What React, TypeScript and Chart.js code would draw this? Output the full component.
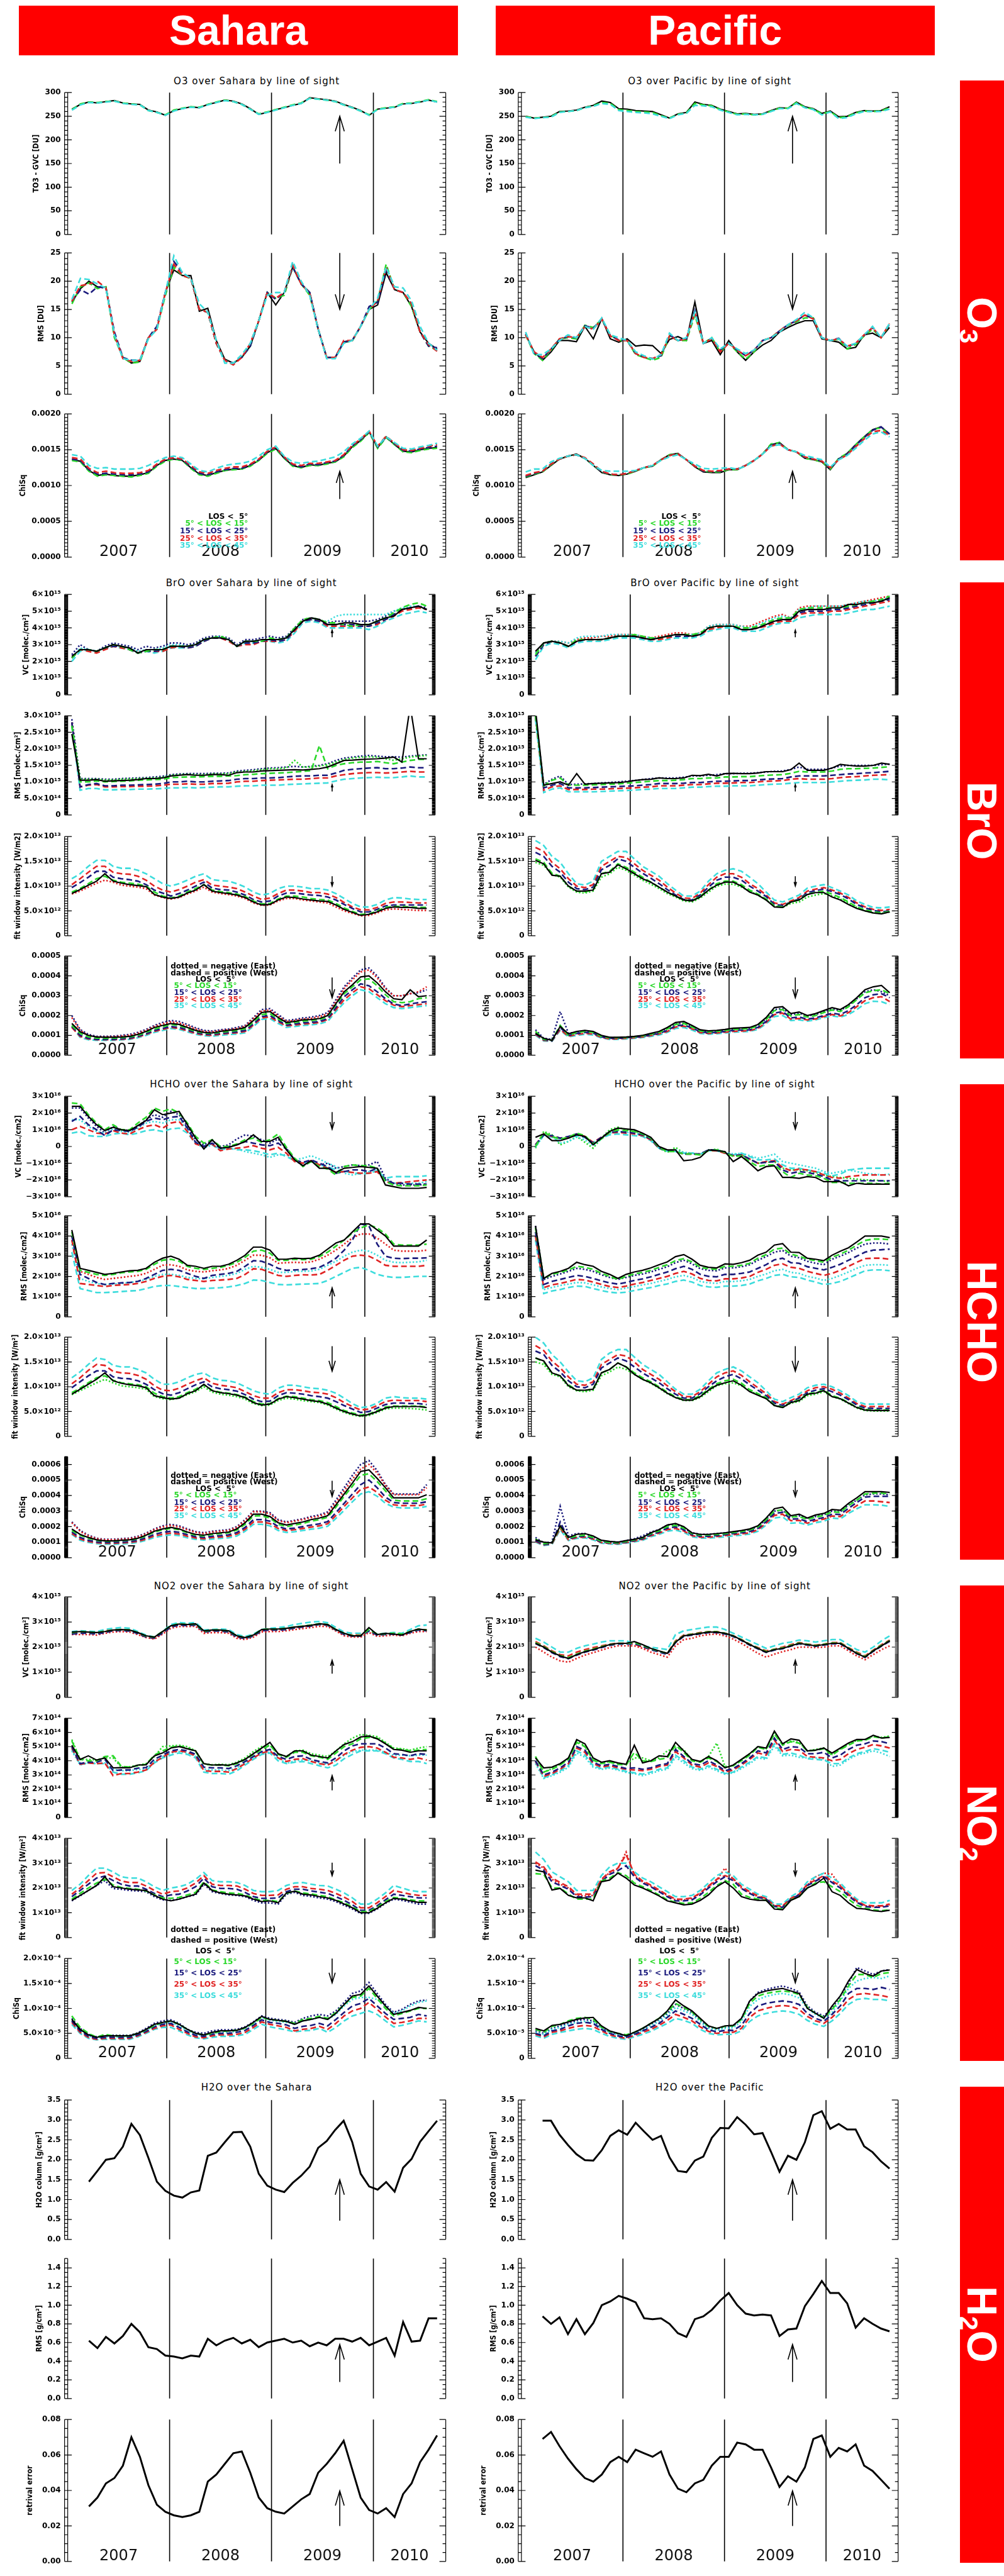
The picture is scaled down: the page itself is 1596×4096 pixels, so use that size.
import React, { useEffect, useRef } from "react";
import { Chart, registerables } from "chart.js";
Chart.register(...registerables);

const S = 1596 / 3025;
const X_MIN = 2007, X_MAX = 2010.71, ARROW_X = 2009.67, O3_LEG_RIGHT = 2008.77;
const YEAR_BOUNDS = [2007, 2008, 2009, 2010, X_MAX];
const YEAR_LABELS = ["2007", "2008", "2009", "2010"];
const KC = "#000000", GC = "#2ad82a", BC = "#1a1a7c", RC = "#e02424", CC = "#3cdcdc";

// ---------------- SAHARA ----------------
const sO31K = [265,275,280,278,281,283,278,276,275,263,259,252,262,266,270,268,275,279,284,282,276,266,254,258,264,268,273,277,289,287,285,282,275,269,262,252,265,267,269,276,277,280,284,280];
const sO31G = [264,276,280,279,281,282,278,276,274,262,258,253,263,267,270,269,275,280,284,281,275,265,255,259,264,269,274,278,288,286,284,281,274,268,261,253,265,268,270,277,278,281,285,281];
const sO31C = [263,274,279,278,280,282,277,275,274,262,258,252,261,266,269,268,274,279,283,281,275,265,254,258,263,268,273,277,288,286,284,281,274,268,261,252,264,267,269,276,277,280,284,280];
const sO32K = [16.3,18.7,20.0,19.0,19.0,10.5,6.5,5.5,5.8,10.0,11.5,18.0,22.0,21.0,21.0,14.7,15.2,9.5,6.2,5.5,6.5,8.5,13.0,18.0,15.8,18.0,22.5,19.5,18.0,11.5,6.5,6.5,9.3,9.5,12.0,15.0,15.8,21.5,18.5,18.0,15.5,11.0,9.0,8.0];
const sO32G = [16.0,19.0,19.7,18.7,19.0,10.0,6.5,5.5,5.7,10.0,11.5,17.5,22.5,21.0,20.5,15.0,14.5,9.0,6.0,5.5,6.5,8.5,13.0,18.0,17.0,17.5,22.5,19.5,17.5,11.5,6.5,6.5,9.2,9.4,12.0,15.0,16.5,23.0,18.5,18.0,15.5,11.0,8.5,7.8];
const sO32B = [16.5,18.5,17.7,19.0,18.8,11.0,6.5,6.0,6.0,10.0,12.0,18.0,23.5,21.5,20.5,15.0,14.5,9.0,6.0,5.5,6.5,8.5,13.0,18.0,16.8,18.0,22.5,19.5,18.0,11.5,6.5,6.5,9.2,9.5,12.0,15.5,16.3,22.0,18.5,18.0,16.0,11.0,8.5,8.2];
const sO32R = [16.5,19.2,19.5,20.0,18.8,10.5,6.3,5.8,6.0,10.0,11.5,18.0,23.0,21.0,20.5,15.0,14.5,9.0,6.0,5.2,6.5,9.0,13.0,18.0,17.0,18.0,22.8,19.5,17.8,11.5,6.5,6.5,9.5,9.5,12.0,15.0,16.5,22.5,18.5,18.0,16.0,11.0,8.8,7.6];
const sO32C = [16.8,20.5,20.3,19.5,18.8,10.5,6.3,6.0,6.0,9.8,11.5,18.0,24.5,21.5,20.5,16.0,14.5,9.5,5.5,5.5,7.0,9.0,13.0,17.5,18.0,18.0,23.5,20.0,17.5,11.5,6.3,6.3,9.0,9.5,12.0,15.0,17.0,22.5,19.0,18.8,16.5,12.0,9.0,7.8];
const sO33K = [136,134,121,114,116,114,113,113,115,118,128,135,137,135,125,116,114,118,121,123,123,128,135,146,152,138,128,125,129,128,131,133,141,154,163,175,153,168,157,148,147,150,152,153];
const sO33G = [135,133,120,113,115,114,113,112,114,117,127,134,137,135,124,115,113,117,121,122,123,127,135,145,151,138,127,125,128,128,130,133,140,153,162,174,152,167,157,147,146,149,151,152];
const sO33B = [137,135,122,116,117,116,115,115,116,119,129,136,138,136,126,117,115,119,122,124,124,129,136,147,153,139,129,126,130,129,132,134,142,155,164,175,154,168,158,149,148,151,153,155];
const sO33R = [139,137,124,118,120,118,117,117,118,121,130,137,139,137,128,119,117,121,124,126,126,130,137,148,154,140,130,128,131,131,133,135,143,156,165,176,155,169,159,150,149,152,155,157];
const sO33C = [143,141,128,124,125,123,123,123,124,128,134,139,141,139,130,121,119,124,128,130,131,134,141,150,155,141,133,131,133,134,137,140,147,158,166,176,155,168,160,152,151,154,156,159];

const sBr1K = [23,27,27,26,28,30,29,28,25,27,27,27,29,29,29,30,33,34,34,33,29,32,32,33,33,33,34,39,44,46,45,42,42,43,43,42,42,44,46,47,51,52,53,51];
const sBr1G = [22,27,27,26,28,30,29,27,25,26,27,27,29,29,29,30,33,34,35,33,29,32,32,32,34,33,34,40,45,46,45,43,43,42,41,42,42,44,46,49,52,54,55,53];
const sBr1B = [22,27,27,26,28,29,29,27,25,26,26,27,29,29,28,29,32,34,34,33,29,31,31,32,33,32,33,39,44,45,44,42,42,42,42,41,41,43,45,48,51,52,53,51];
const sBr1R = [22,27,26,25,27,29,28,27,25,26,26,26,28,29,28,29,32,34,34,32,29,30,30,32,32,32,33,38,44,45,44,41,41,41,41,41,41,42,45,47,50,51,52,51];
const sBr1C = [20,26,27,26,28,29,28,27,25,26,25,26,28,28,28,29,32,34,34,33,29,31,31,32,32,31,32,37,43,44,43,40,40,40,40,40,39,41,44,46,48,49,50,49];
const sBr1Bd = [24,30,27,26,29,31,30,29,27,29,28,29,31,31,30,31,34,35,35,34,30,33,33,34,35,34,35,40,45,46,45,43,44,44,44,44,44,45,47,50,51,52,53,52];
const sBr1Cd = [22,28,27,26,28,30,29,28,26,27,27,28,30,30,29,30,33,34,35,33,29,32,32,33,33,33,34,39,44,45,44,44,47,48,48,48,48,48,48,50,52,53,53,51];
const sBr2K = [245,105,105,107,102,103,104,105,107,110,110,112,118,120,122,120,120,122,122,120,128,130,130,133,134,135,136,137,136,138,140,145,155,165,166,168,169,170,172,175,160,330,170,170];
const sBr2G = [270,100,100,103,100,101,102,103,105,106,107,108,113,114,115,115,116,117,117,118,119,122,123,125,126,127,128,130,132,134,210,140,150,155,158,160,160,162,158,155,160,165,168,168];
const sBr2B = [280,85,92,95,88,88,90,90,91,92,93,95,100,100,102,100,100,102,103,104,108,110,110,112,112,113,115,117,118,118,120,120,127,135,138,140,142,143,140,140,142,145,143,143];
const sBr2R = [280,85,90,92,85,85,86,86,87,87,88,90,93,93,94,93,93,95,95,96,100,102,102,104,105,106,107,108,108,110,112,112,118,122,125,127,128,128,127,128,130,132,130,130];
const sBr2C = [270,75,80,80,76,76,77,77,78,78,79,80,82,82,83,82,83,84,85,85,87,88,88,90,90,90,92,93,94,95,96,97,103,108,110,112,113,114,113,113,115,118,115,115];
const sBr2Bd = [290,110,110,110,108,108,110,111,112,113,115,117,122,124,125,125,125,126,126,127,133,135,137,140,142,143,145,147,145,147,150,155,165,172,175,178,180,178,176,176,175,178,180,182];
const sBr2Gd = [280,108,108,108,106,106,108,109,110,111,112,114,120,122,123,122,122,124,124,125,130,132,134,137,140,140,142,165,145,145,148,152,160,168,172,175,176,175,170,165,170,175,178,180];
const sBr3K = [85,93,102,110,125,110,106,103,101,99,83,78,75,78,86,92,103,90,87,85,82,77,68,62,63,72,78,77,74,72,70,69,62,53,47,41,43,48,55,58,57,57,55,55];
const sBr3G = [88,95,105,115,120,112,108,106,104,100,88,80,76,80,88,95,103,92,89,87,84,79,70,64,65,74,80,80,78,75,73,72,65,56,49,43,44,50,57,59,59,58,57,57];
const sBr3B = [97,107,118,130,130,118,115,113,110,103,92,86,80,85,92,100,108,96,93,92,88,82,73,68,70,80,86,86,84,82,81,78,72,63,55,48,48,53,60,62,62,62,62,62];
const sBr3R = [103,115,128,140,140,128,125,124,120,112,100,92,88,93,100,108,113,102,100,98,95,88,80,73,76,85,92,92,90,87,87,84,77,67,58,52,52,57,65,68,68,67,66,66];
const sBr3C = [115,125,140,152,152,140,136,136,132,125,115,105,100,105,112,120,125,113,111,110,105,98,88,82,85,95,100,100,98,95,95,92,85,75,65,58,58,63,72,77,76,74,73,73];
const sBr3Rd = [84,90,98,106,112,108,102,100,98,95,82,77,74,77,84,90,98,88,85,83,80,75,66,61,62,70,75,75,72,70,68,66,58,50,45,40,41,46,52,54,53,52,51,51];
const sBr4K = [160,118,100,92,90,90,92,95,105,120,140,150,160,155,140,125,115,112,120,125,130,140,175,215,220,190,165,170,178,180,185,200,260,320,355,395,400,365,320,285,280,330,295,300];
const sBr4G = [150,110,92,86,85,86,88,92,100,115,132,143,155,150,135,120,112,110,116,120,125,133,168,205,210,183,160,165,172,175,180,195,255,310,345,380,385,350,305,270,265,270,285,290];
const sBr4B = [145,100,85,80,80,80,83,86,95,108,125,135,145,140,128,115,106,105,110,114,118,125,158,195,200,175,152,157,163,166,170,185,240,295,330,360,350,320,285,258,250,258,265,270];
const sBr4R = [140,95,82,78,78,78,80,83,92,105,120,130,140,135,123,110,102,100,106,110,113,120,152,188,193,168,148,152,157,160,165,180,230,280,315,345,335,305,275,252,245,250,255,260];
const sBr4C = [145,90,78,75,75,75,77,80,88,100,115,125,135,130,118,105,98,96,100,104,107,113,145,180,185,160,140,145,150,153,158,170,220,265,300,330,320,290,260,240,235,240,245,250];
const sBr4Bd = [200,130,105,95,95,96,100,105,115,130,150,165,175,170,155,138,125,122,128,132,140,150,190,230,235,205,175,180,188,192,200,215,280,345,390,430,440,400,340,300,300,310,315,330];
const sBr4Rd = [190,125,100,92,92,93,96,100,110,125,145,158,168,162,148,132,120,118,124,128,135,145,185,222,228,198,170,175,182,186,194,208,270,335,380,420,430,390,335,300,300,310,320,345];

const sHc1K = [240,240,180,130,95,115,100,95,125,155,220,190,200,210,130,50,-15,40,-10,-5,10,30,70,30,30,55,-20,-80,-115,-85,-130,-130,-155,-130,-125,-120,-125,-130,-230,-240,-250,-250,-250,-245];
const sHc1G = [260,255,190,140,100,130,100,100,140,175,230,210,225,200,140,60,20,40,0,0,15,40,50,25,40,75,-5,-70,-120,-90,-120,-135,-170,-120,-110,-115,-115,-130,-210,-230,-235,-235,-235,-230];
const sHc1B = [150,180,130,100,65,100,95,90,115,150,170,160,175,180,110,25,0,20,-10,0,10,30,20,10,5,20,-15,-80,-95,-80,-100,-120,-160,-150,-140,-140,-150,-130,-200,-220,-220,-225,-225,-225];
const sHc1R = [100,120,100,80,75,95,80,75,100,120,130,110,140,150,90,15,0,15,-25,-15,-10,-5,5,-10,-20,-5,-40,-90,-100,-85,-110,-130,-155,-150,-155,-160,-160,-150,-210,-220,-215,-210,-205,-200];
const sHc1C = [80,90,65,60,60,75,80,70,80,95,100,90,105,110,80,20,5,10,-20,-10,-20,-20,-25,-35,-50,-40,-60,-85,-100,-90,-110,-120,-140,-150,-155,-165,-160,-145,-190,-180,-180,-180,-180,-175];
const sHc1Bd = [230,230,170,120,80,120,100,95,120,160,190,175,210,190,120,40,10,35,0,10,45,70,60,40,20,45,-10,-80,-115,-90,-110,-100,-130,-120,-110,-115,-110,-90,-190,-220,-230,-230,-230,-225];
const sHc1Cd = [160,160,120,90,80,105,90,85,110,140,150,140,160,160,100,20,-10,10,-20,-10,-15,-30,-40,-50,-65,-50,-50,-80,-70,-55,-75,-100,-120,-160,-170,-160,-150,-130,-200,-220,-220,-220,-220,-210];
const sHc2K = [430,240,230,220,210,215,222,228,230,240,270,290,300,285,255,250,240,250,250,260,280,305,345,345,330,285,285,290,288,290,305,335,365,380,420,460,460,430,400,350,350,350,350,380];
const sHc2G = [420,230,220,210,205,210,218,222,225,235,260,280,285,275,250,240,235,240,245,255,270,295,325,330,315,280,280,285,283,285,298,320,350,380,415,440,455,440,410,360,355,355,355,360];
const sHc2B = [400,210,190,170,160,165,168,170,175,190,210,230,235,230,215,200,190,205,210,215,225,250,278,275,260,240,230,232,234,238,245,265,290,330,380,460,450,360,300,290,288,290,290,292];
const sHc2R = [380,165,160,155,150,155,158,160,165,175,190,200,205,198,185,180,175,180,182,185,190,210,238,235,220,205,200,205,208,207,210,230,255,280,300,305,300,280,255,250,250,250,250,255];
const sHc2C = [320,140,130,120,120,122,125,128,130,140,150,155,155,150,145,140,140,142,144,148,155,165,182,180,170,160,158,160,162,163,165,180,200,220,240,245,230,210,200,195,195,198,200,200];
const sHc2Rd = [400,225,210,195,185,190,195,200,205,215,235,255,258,250,232,225,222,228,232,240,255,280,305,305,292,265,268,270,268,272,285,305,330,360,390,410,410,390,360,330,325,325,325,330];
const sHc2Cd = [360,190,175,165,160,162,165,170,175,185,200,210,210,205,195,190,188,195,200,205,215,235,250,245,235,220,220,225,225,227,235,255,275,300,320,330,325,305,280,270,268,270,272,280];
const sHc3K = [85,95,105,115,128,112,107,104,102,98,82,78,75,77,86,92,105,92,88,86,83,78,68,63,65,75,80,78,75,72,70,65,57,50,45,41,44,50,57,60,60,60,60,58];
const sHc3G = [88,97,108,118,122,113,108,106,104,100,87,80,77,80,88,95,104,93,89,87,84,79,70,65,66,76,81,80,77,74,72,68,60,52,47,43,45,52,59,61,61,61,61,59];
const sHc3B = [98,110,122,132,132,120,117,116,112,105,94,86,83,88,96,104,110,100,96,94,91,84,75,70,71,82,88,87,85,82,80,77,70,62,55,48,50,57,64,67,67,66,66,64];
const sHc3R = [106,118,133,145,143,131,128,127,123,115,102,93,92,97,105,112,118,107,103,101,98,90,82,77,77,88,94,94,92,89,88,85,78,68,60,53,55,62,70,73,72,72,72,70];
const sHc3C = [118,130,145,158,155,143,140,140,135,128,115,105,105,110,118,125,128,118,113,112,108,100,92,87,85,97,103,103,100,97,96,93,87,77,66,58,60,67,77,80,78,77,77,75];
const sHc3Gd = [84,92,100,108,115,108,102,100,98,95,80,76,74,77,84,90,100,89,85,83,80,75,66,62,63,72,77,75,72,70,68,63,55,48,43,40,42,48,55,57,57,56,55,53];
const sHc4K = [185,150,130,115,108,108,112,115,125,145,170,185,195,185,165,150,145,155,160,165,185,225,280,280,265,225,210,220,230,245,255,270,340,410,480,555,565,510,450,385,385,385,385,405];
const sHc4G = [175,145,125,112,106,106,110,113,122,140,165,180,188,180,160,145,140,150,155,160,178,215,268,270,255,215,200,210,220,235,245,260,325,395,460,530,540,490,430,370,365,365,365,380];
const sHc4B = [165,130,112,102,98,98,100,104,112,128,150,163,170,163,148,135,130,138,142,147,162,195,245,245,235,200,185,190,200,210,218,232,290,350,410,470,500,450,390,355,350,350,350,360];
const sHc4R = [155,120,105,96,92,92,95,98,105,120,140,150,158,152,138,127,122,130,133,138,152,183,230,230,220,188,175,180,188,197,205,218,272,330,385,440,455,420,370,340,335,335,335,345];
const sHc4C = [150,112,98,90,86,86,88,91,98,112,130,140,147,142,128,118,114,120,124,128,140,170,215,215,205,175,162,167,175,183,190,202,253,305,360,410,425,395,350,325,320,320,320,330];
const sHc4Bd = [230,175,145,125,118,118,122,126,138,158,185,205,215,205,185,168,160,170,175,180,200,245,300,300,290,245,230,240,250,265,275,295,370,450,530,600,625,560,470,410,410,410,410,470];
const sHc4Rd = [225,170,140,122,115,115,118,122,133,153,180,198,208,198,180,163,155,165,170,175,195,238,295,295,282,240,225,235,245,258,268,285,355,430,505,570,600,545,465,405,405,405,405,450];

const sNo1K = [260,262,260,258,262,268,270,268,258,245,240,262,285,292,290,293,265,268,268,265,245,238,248,270,272,272,275,280,283,287,293,290,270,255,245,245,278,250,255,252,248,262,272,268];
const sNo1G = [258,262,260,258,263,268,270,268,258,244,240,262,285,293,290,292,263,268,268,264,245,238,248,270,272,272,275,280,284,288,293,290,270,255,246,246,270,252,253,255,252,262,272,268];
const sNo1B = [252,255,255,252,258,265,266,264,254,240,236,256,280,288,286,288,260,264,264,260,240,234,244,265,268,268,270,276,280,284,290,287,268,250,244,244,265,248,250,252,248,258,268,265];
const sNo1R = [255,258,258,255,265,268,270,268,255,240,235,258,280,290,288,290,260,265,265,262,240,235,245,265,268,270,272,278,282,287,292,288,268,250,248,248,265,250,252,255,250,262,272,268];
const sNo1C = [262,265,263,262,270,275,278,275,262,248,240,262,290,298,295,298,268,270,272,270,250,242,252,270,275,278,282,290,295,300,302,297,278,260,255,255,262,252,255,258,255,270,285,288];
const sNo1Rd = [250,250,250,248,255,260,262,260,250,238,232,252,275,282,282,283,255,258,258,255,235,230,240,260,262,262,265,270,274,278,283,282,264,245,240,240,258,243,245,248,245,255,262,262];
const sNo2K = [510,410,435,405,420,350,352,350,370,372,435,455,490,500,485,470,380,370,372,368,385,410,450,490,530,450,430,470,470,440,430,420,470,515,535,568,575,555,520,480,475,460,470,470];
const sNo2G = [540,410,400,400,430,435,360,355,365,375,440,470,495,505,490,465,375,370,370,365,380,410,445,480,510,445,425,460,460,435,425,410,455,500,520,555,565,560,525,485,480,470,475,480];
const sNo2B = [500,380,390,390,410,330,335,335,348,352,410,440,470,480,470,445,355,350,350,345,365,395,430,465,480,430,410,430,435,410,395,385,420,470,505,520,520,520,490,450,445,435,450,445];
const sNo2R = [490,375,385,380,385,295,310,310,320,335,390,425,460,470,460,435,330,325,325,320,345,380,420,455,470,420,395,410,415,395,380,370,400,445,475,495,500,490,460,425,420,410,420,405];
const sNo2C = [480,375,385,380,380,320,305,305,315,330,385,420,440,455,445,420,320,310,310,305,330,370,410,445,455,400,380,390,395,380,365,350,370,415,445,470,470,470,450,420,410,395,395,380];
const sNo2Gd = [550,410,410,405,420,420,355,358,368,380,430,500,505,510,500,470,378,372,375,372,390,420,465,500,510,450,430,470,475,450,440,430,470,520,560,585,580,570,530,490,485,475,490,500];
const sNo2Cd = [470,370,385,380,385,340,330,330,338,345,395,430,455,465,455,430,340,335,335,330,350,385,420,455,460,420,380,400,405,400,385,375,400,440,465,475,475,475,460,440,440,435,440,440];
const sNo3K = [150,170,190,210,245,205,200,195,192,190,170,155,148,155,165,175,220,190,180,175,172,168,155,145,148,140,180,187,175,172,165,160,150,135,120,100,100,118,140,158,155,148,142,142];
const sNo3G = [155,178,200,220,235,212,202,198,195,188,172,160,158,162,172,182,225,192,185,180,178,172,158,150,150,145,178,188,180,176,170,165,152,140,124,105,105,122,145,162,158,152,148,148];
const sNo3B = [165,190,215,240,248,230,215,208,208,195,178,165,172,175,188,205,240,205,198,198,195,182,165,158,158,160,185,195,195,188,183,178,165,150,132,110,110,128,152,175,170,165,160,160];
const sNo3R = [175,200,230,260,262,245,228,222,222,208,190,175,185,188,200,220,250,215,210,210,208,195,178,170,170,172,195,205,205,198,195,190,178,163,145,120,120,140,165,190,182,175,170,170];
const sNo3C = [190,215,250,280,280,265,245,240,240,225,205,190,200,205,215,235,262,230,225,225,222,210,190,185,185,190,210,220,222,215,210,208,195,180,160,135,135,155,180,210,200,190,185,185];
const sNo3Bd = [148,168,190,210,230,198,195,190,188,185,165,152,150,155,165,172,215,185,178,172,170,165,150,140,140,135,175,182,170,166,160,155,145,130,115,97,98,115,138,155,150,143,135,135];
const sNo4K = [78,58,47,42,45,45,45,45,50,58,68,72,75,68,58,50,47,52,55,55,56,62,72,84,78,76,74,68,75,78,82,78,90,108,125,128,145,125,105,88,92,96,102,100];
const sNo4G = [85,62,50,42,48,45,45,45,50,57,66,72,75,68,58,50,47,50,54,55,56,61,70,82,78,76,74,70,78,80,84,80,92,108,122,125,140,120,100,85,90,95,100,100];
const sNo4B = [75,55,44,40,42,42,42,42,47,54,63,68,70,62,53,46,44,48,50,50,52,56,66,77,72,70,67,60,64,66,70,65,78,92,105,110,120,105,90,78,80,82,88,85];
const sNo4R = [72,52,42,38,40,40,40,40,45,52,60,65,67,58,50,43,41,45,47,47,48,52,62,73,68,65,62,55,58,60,64,58,70,85,95,100,112,98,83,70,72,75,80,80];
const sNo4C = [68,50,40,37,38,38,38,38,43,50,58,62,62,55,47,41,39,42,44,44,45,48,58,68,63,60,57,53,55,56,60,52,62,75,85,90,95,88,75,63,66,70,75,73];
const sNo4Bd = [80,60,48,43,45,46,46,46,51,60,70,75,77,70,58,52,50,55,57,57,58,63,73,85,80,78,76,72,80,85,88,85,95,112,130,135,152,130,108,92,98,108,115,117];
const sNo4Cd = [75,56,45,40,43,43,43,43,48,56,65,70,72,65,55,48,46,50,52,52,54,60,70,82,76,74,72,68,75,78,82,78,88,105,118,122,122,118,105,90,95,105,112,115];

const sH2o1 = [1.45,1.72,2.0,2.04,2.33,2.9,2.62,2.05,1.45,1.22,1.1,1.05,1.18,1.23,2.1,2.18,2.44,2.69,2.7,2.33,1.65,1.35,1.25,1.19,1.42,1.6,1.83,2.3,2.47,2.75,2.98,2.45,1.65,1.33,1.25,1.44,1.2,1.8,2.02,2.45,2.72,2.98];
const sH2o2 = [0.62,0.54,0.66,0.59,0.67,0.80,0.71,0.55,0.53,0.46,0.45,0.43,0.46,0.45,0.64,0.57,0.62,0.65,0.59,0.63,0.55,0.60,0.62,0.64,0.60,0.62,0.56,0.60,0.57,0.64,0.64,0.61,0.65,0.57,0.61,0.65,0.46,0.82,0.61,0.62,0.86,0.86];
const sH2o3 = [0.031,0.036,0.044,0.047,0.054,0.070,0.059,0.043,0.032,0.028,0.026,0.025,0.026,0.028,0.045,0.049,0.055,0.061,0.062,0.050,0.036,0.030,0.028,0.027,0.031,0.035,0.038,0.050,0.055,0.061,0.068,0.052,0.036,0.029,0.027,0.030,0.025,0.038,0.044,0.056,0.063,0.071];

// ---------------- PACIFIC ----------------
const pO31K = [250,246,248,250,260,261,263,269,273,282,279,266,265,262,261,260,253,246,255,258,280,275,273,265,260,255,256,254,255,262,268,267,280,270,266,256,261,249,250,258,262,261,262,270];
const pO31G = [249,246,247,249,259,260,262,268,272,279,277,264,262,260,259,258,251,246,254,257,277,274,272,264,259,254,255,253,254,261,267,267,279,269,265,255,260,247,249,257,261,260,261,268];
const pO31C = [248,245,247,248,258,260,262,268,271,277,275,262,260,258,257,255,250,245,253,256,273,272,270,263,258,253,254,253,254,260,266,266,277,268,264,253,259,245,247,255,260,260,260,265];
const pO32K = [10.5,7.5,6.0,7.5,9.5,9.5,9.3,12.0,9.8,13.4,9.8,9.2,9.8,8.5,8.7,8.6,7.2,9.7,10.2,9.5,16.3,9.0,9.5,7.0,9.5,7.5,6.0,7.5,8.7,9.5,11.0,11.8,12.5,13.0,13.0,9.8,9.5,9.2,8.0,8.3,10.5,10.8,10.0,11.8];
const pO32G = [10.5,7.2,6.0,7.8,9.8,10.0,9.8,12.2,11.8,13.3,10.5,9.5,9.5,7.0,6.5,6.0,6.5,10.3,9.5,9.5,14.0,9.0,10.0,7.5,9.0,7.5,6.2,7.5,9.5,10.0,11.2,12.2,12.8,13.5,13.5,10.0,9.5,9.7,8.0,8.8,10.3,11.5,10.0,12.3];
const pO32B = [10.7,7.3,6.3,8.0,9.7,10.2,10.0,12.1,11.7,13.3,10.4,9.6,9.5,7.2,6.6,6.3,6.8,10.5,9.5,9.8,14.8,9.0,9.9,7.8,9.0,7.8,6.8,7.8,9.5,10.0,11.2,12.3,13.0,14.0,13.4,10.0,9.5,9.9,8.4,9.0,10.4,11.8,10.0,12.4];
const pO32R = [10.5,7.5,6.5,8.0,9.8,10.2,10.0,12.0,11.5,13.3,10.3,9.5,9.5,7.2,6.5,6.3,7.0,10.3,9.5,9.8,14.5,9.0,9.8,7.5,9.0,7.8,6.8,7.8,9.5,10.0,11.2,12.3,13.0,14.0,13.3,10.0,9.5,9.8,8.5,9.0,10.5,11.8,10.0,12.5];
const pO32C = [11.0,7.0,7.0,8.0,9.5,10.5,10.0,12.0,11.5,13.5,10.5,10.0,9.5,7.5,6.8,6.2,7.0,10.8,9.5,10.0,14.5,9.0,10.0,8.0,9.0,8.0,7.2,7.8,9.5,10.0,11.0,12.3,13.2,14.5,13.5,10.0,9.5,9.8,8.5,9.0,10.5,12.0,10.0,12.5];
const pO33K = [111,115,119,128,137,141,144,138,128,118,115,114,116,120,125,127,136,143,145,136,126,119,118,118,122,122,128,135,144,157,160,150,147,138,136,133,122,137,145,157,168,178,182,172];
const pO33G = [112,116,119,129,137,141,143,138,128,119,115,115,116,120,125,127,136,143,144,136,127,120,119,119,122,122,128,135,144,158,160,150,147,138,136,133,123,138,145,157,168,178,181,171];
const pO33B = [113,117,120,130,137,141,143,138,129,119,116,115,117,121,125,128,136,142,144,136,127,120,120,120,123,123,128,135,144,156,159,150,147,139,137,134,124,137,144,156,167,177,182,172];
const pO33R = [114,118,120,130,137,141,143,139,130,120,116,115,117,121,125,128,136,142,144,136,127,121,120,121,123,123,128,135,144,155,158,150,147,140,137,134,125,136,143,154,165,175,177,170];
const pO33C = [119,123,123,133,138,141,143,138,128,121,120,120,120,121,125,128,135,140,143,136,130,124,123,124,125,123,127,135,144,155,157,150,147,142,139,136,126,136,142,152,163,172,175,168];

const pBr1K = [26,31,32,31,29,32,33,33,33,34,35,35,35,34,33,34,35,36,36,35,36,40,41,41,41,39,39,40,42,44,45,45,50,51,51,51,52,52,54,54,55,55,56,58];
const pBr1G = [24,31,32,31,29,33,33,33,33,34,35,35,36,35,34,34,35,36,36,36,37,40,41,41,41,40,40,41,43,45,46,46,51,52,52,52,52,52,53,54,55,56,57,59];
const pBr1B = [23,30,32,31,29,32,33,33,33,34,35,35,35,34,33,34,35,35,35,35,36,40,41,41,41,39,39,40,42,44,45,45,49,50,50,50,51,51,52,53,54,55,56,57];
const pBr1R = [23,30,32,31,29,32,33,33,33,34,35,35,35,34,33,33,34,35,35,35,36,39,40,41,41,39,39,40,41,43,44,44,48,49,49,49,50,50,51,52,53,54,55,56];
const pBr1C = [21,29,31,30,28,31,32,32,32,33,34,34,34,33,32,32,33,34,34,34,35,38,39,40,40,38,38,38,40,42,43,43,46,47,48,48,48,48,49,50,51,51,52,53];
const pBr1Rd = [25,31,32,32,31,33,34,34,35,35,36,36,36,35,34,35,36,37,37,36,37,41,42,42,42,41,41,43,45,47,48,46,52,53,53,53,53,53,54,55,56,57,58,59];
const pBr1Cd = [25,31,32,32,31,34,35,35,35,36,36,36,36,35,34,34,35,36,36,36,37,41,42,42,42,41,40,42,44,46,47,46,51,52,53,53,53,53,54,55,56,56,57,58];
const pBr2K = [320,90,95,100,90,125,93,95,96,97,98,100,104,107,108,112,110,110,112,120,119,123,118,125,126,125,125,127,131,131,131,137,157,135,135,135,142,153,150,148,148,150,157,153];
const pBr2G = [300,88,105,112,90,90,90,91,92,93,94,96,98,100,102,104,104,105,107,110,110,112,112,115,115,116,116,118,120,121,122,126,132,130,130,130,133,138,140,140,141,142,144,146];
const pBr2B = [300,82,90,95,82,82,82,83,84,85,86,87,88,90,92,95,95,95,96,98,98,100,102,102,103,104,104,106,108,109,110,115,118,118,118,118,120,122,124,125,127,128,130,132];
const pBr2R = [300,75,85,88,77,77,77,78,78,79,80,81,82,84,85,88,88,88,90,92,92,94,96,96,97,98,98,100,102,103,104,108,110,108,108,108,110,113,115,116,118,120,121,122];
const pBr2C = [290,68,78,82,70,70,70,70,71,72,73,74,75,77,78,80,80,80,82,84,84,86,87,87,88,88,88,90,92,93,94,96,98,98,98,98,100,102,104,105,106,108,108,106];
const pBr2Bd = [300,92,108,118,92,93,94,95,97,98,100,102,104,107,110,112,112,112,114,118,118,120,122,125,125,126,126,128,130,132,133,138,145,138,138,138,142,148,150,150,150,150,152,154];
const pBr3K = [152,145,122,120,100,90,90,92,125,128,143,135,125,115,108,98,88,80,72,70,78,92,102,108,108,100,88,82,72,58,57,68,72,83,87,87,78,72,63,55,50,46,44,48];
const pBr3G = [155,148,126,120,100,90,88,93,125,130,145,138,128,118,108,98,88,80,72,70,80,92,105,110,110,103,92,84,74,60,58,68,72,84,87,90,84,77,68,58,52,48,46,49];
const pBr3B = [168,160,140,128,108,95,93,98,133,142,155,150,138,126,116,105,93,82,73,72,82,98,112,118,118,112,100,90,79,63,61,68,74,87,91,94,89,83,74,63,56,51,48,50];
const pBr3R = [178,170,148,135,115,100,97,103,140,150,160,158,145,132,122,112,98,86,76,75,86,103,118,125,125,118,105,95,82,66,63,70,77,90,94,97,92,86,77,66,58,53,51,53];
const pBr3C = [192,182,160,148,125,105,102,110,150,160,170,170,155,140,130,120,105,92,80,80,90,110,125,132,135,130,118,105,88,72,68,75,82,96,100,103,97,90,82,70,63,57,56,58];
const pBr3Gd = [148,142,124,118,98,88,86,90,118,125,138,132,122,112,104,95,85,78,70,68,76,88,100,104,104,98,90,82,72,60,57,65,68,78,82,85,80,74,66,57,50,46,45,48];
const pBr4K = [110,85,75,145,108,120,125,120,100,90,90,92,95,100,110,120,140,165,170,150,128,123,125,130,136,138,140,155,190,240,245,210,218,200,210,225,240,230,255,290,330,345,352,315];
const pBr4G = [120,80,75,150,100,115,120,115,95,88,88,90,93,98,106,115,132,155,160,143,122,118,120,125,130,132,134,148,180,225,230,198,205,192,200,215,228,220,245,280,315,325,330,310];
const pBr4B = [110,78,72,140,100,110,115,112,92,85,85,88,90,95,102,110,125,148,152,138,118,113,115,120,125,127,128,140,170,212,220,188,192,182,188,200,212,205,225,255,290,305,310,290];
const pBr4R = [105,75,72,130,95,105,110,107,90,82,83,85,88,92,99,107,120,142,147,133,114,110,112,116,120,122,124,135,165,205,212,182,185,178,183,195,205,198,215,245,275,290,295,270];
const pBr4C = [100,72,70,125,92,100,105,102,87,80,80,82,85,89,95,102,115,135,140,127,110,106,108,112,116,118,120,130,158,195,200,175,178,172,178,190,198,192,205,230,260,272,270,255];
const pBr4Bd = [128,85,80,220,110,118,122,118,97,88,88,90,93,98,107,117,135,158,162,145,124,120,122,127,133,135,137,150,183,230,235,205,212,198,205,220,232,225,250,285,320,330,320,300];

const pHc1K = [55,75,35,35,50,70,60,10,50,90,110,105,100,80,55,0,-20,-20,-85,-80,-65,-20,-25,-30,-90,-60,-100,-145,-120,-115,-185,-185,-190,-180,-185,-210,-210,-210,-235,-220,-225,-225,-225,-225];
const pHc1G = [0,85,60,45,55,80,65,15,45,85,100,95,90,75,50,-5,-30,-30,-45,-45,-50,-25,-20,-35,-60,-55,-90,-120,-110,-110,-150,-185,-160,-170,-175,-190,-215,-215,-220,-220,-220,-220,-225,-220];
const pHc1B = [10,70,65,50,60,75,55,20,55,85,90,85,80,70,45,-10,-25,-30,-45,-45,-45,-20,-20,-35,-55,-50,-75,-100,-95,-90,-140,-160,-150,-155,-165,-180,-200,-205,-205,-205,-205,-205,-205,-205];
const pHc1R = [10,75,60,50,55,75,60,25,55,80,85,80,75,65,40,-10,-25,-30,-45,-45,-45,-25,-25,-40,-55,-50,-75,-100,-90,-85,-125,-145,-135,-140,-150,-170,-185,-190,-180,-175,-170,-170,-170,-170];
const pHc1C = [0,65,55,45,50,65,55,25,50,70,75,70,65,60,35,-10,-25,-30,-40,-40,-45,-25,-25,-40,-50,-40,-60,-80,-80,-75,-110,-130,-130,-140,-150,-160,-175,-165,-140,-135,-130,-130,-130,-130];
const pHc1Gd = [-10,90,70,10,30,60,25,-10,50,100,115,100,95,70,45,-10,-35,-5,-40,-40,-50,-25,-15,-40,-55,-50,-75,-100,-95,-90,-130,-140,-140,-145,-155,-170,-180,-185,-190,-195,-200,-200,-205,-210];
const pHc1Cd = [-5,70,60,20,30,55,40,5,45,80,90,85,80,65,40,-10,-30,-20,-35,-40,-45,-20,-20,-35,-45,-40,-55,-70,-60,-45,-90,-100,-110,-120,-130,-150,-160,-150,-140,-150,-160,-165,-170,-165];
const pHc2K = [450,190,215,225,240,270,258,250,225,210,190,210,222,230,242,258,272,298,308,285,255,245,242,262,260,268,280,305,320,355,362,320,318,290,285,278,305,325,342,370,400,400,400,392];
const pHc2G = [440,190,210,220,232,250,245,235,215,200,185,200,212,220,230,245,258,278,288,272,245,238,235,250,250,255,265,290,308,335,340,310,300,285,278,270,295,310,330,355,378,385,385,382];
const pHc2B = [420,160,175,185,195,205,200,190,178,168,162,170,180,188,198,210,222,238,250,235,210,200,198,210,210,215,222,240,258,282,290,268,265,248,240,232,245,260,280,300,320,330,332,335];
const pHc2R = [400,145,158,165,175,185,182,172,160,150,145,152,162,170,180,190,200,215,225,212,190,180,178,188,188,192,200,220,235,255,262,245,240,225,215,205,215,230,250,270,288,290,290,285];
const pHc2C = [380,115,128,135,145,152,150,140,130,122,118,122,130,138,145,155,163,175,182,172,155,148,146,152,152,155,162,178,190,205,210,198,195,182,172,160,165,175,192,210,228,232,232,228];
const pHc2Bd = [450,185,200,212,225,240,235,225,208,195,185,195,205,212,222,235,248,268,280,262,238,230,228,242,242,248,258,280,298,320,328,300,292,275,265,258,285,300,318,340,360,365,365,360];
const pHc2Cd = [400,135,145,155,162,170,168,158,148,140,135,142,150,158,165,175,185,198,205,195,175,168,166,175,175,178,185,200,212,228,235,220,215,200,192,180,190,205,222,240,255,258,258,255];
const pHc3K = [158,152,128,122,102,93,93,95,128,135,148,140,125,115,108,98,87,78,73,73,80,93,103,108,112,103,90,83,76,62,58,68,72,85,87,92,80,76,67,58,53,52,52,52];
const pHc3G = [158,150,128,122,104,93,92,96,128,135,148,140,128,118,110,100,89,80,74,74,82,95,106,112,115,107,94,86,78,63,59,69,73,86,88,93,82,77,68,59,54,53,53,53];
const pHc3B = [172,165,143,130,112,100,98,105,138,148,158,152,140,128,118,108,96,85,77,77,86,100,112,120,125,116,104,93,82,67,62,70,77,88,93,96,90,83,74,63,57,56,56,56];
const pHc3R = [183,173,152,138,120,105,103,110,145,155,165,162,150,135,125,115,102,90,80,80,90,105,120,128,132,123,110,98,86,70,65,72,80,92,98,100,95,87,77,66,60,60,60,60];
const pHc3C = [200,188,165,150,130,112,110,118,155,168,175,175,160,145,135,125,110,95,85,85,95,112,128,135,140,132,120,108,92,75,70,78,85,98,103,105,100,92,82,70,65,65,65,65];
const pHc3Gd = [150,145,125,120,100,92,90,93,122,130,140,135,125,115,107,97,86,78,72,72,78,90,102,106,108,102,92,84,76,62,58,67,70,82,85,90,80,75,66,57,52,51,51,51];
const pHc4K = [115,100,95,205,130,150,155,140,112,105,100,110,118,130,160,180,210,220,200,160,150,150,155,160,168,175,185,205,255,315,325,270,280,255,275,285,310,305,350,385,425,425,425,420];
const pHc4G = [120,90,95,200,125,140,145,130,105,98,96,105,115,128,155,172,200,208,190,155,145,146,150,155,162,168,178,198,245,300,308,262,265,245,262,272,295,292,335,370,410,415,415,410];
const pHc4B = [110,85,90,230,120,135,138,125,100,95,92,100,110,122,148,165,190,198,180,148,138,138,142,148,155,160,168,188,232,285,292,248,250,232,248,258,280,278,318,355,390,395,395,395];
const pHc4R = [105,82,88,190,115,130,133,120,97,92,90,97,107,118,142,158,180,188,172,142,132,132,136,142,148,153,160,180,222,272,280,238,240,222,238,248,268,265,300,335,365,365,360,355];
const pHc4C = [100,78,85,180,110,124,128,115,93,88,86,93,102,112,135,150,170,178,163,135,126,126,130,135,140,145,152,170,210,255,262,222,225,210,225,235,255,250,285,315,340,340,338,330];
const pHc4Bd = [130,95,100,330,140,155,155,135,110,102,100,110,122,140,165,180,210,215,190,160,150,150,155,160,165,170,180,200,245,300,305,260,270,250,265,275,300,295,340,370,405,410,410,405];

const pNo1K = [215,200,180,165,155,170,182,190,200,210,215,215,222,210,195,185,175,220,245,250,255,260,260,255,245,228,210,195,180,190,195,205,215,210,205,210,215,215,195,175,160,185,205,225];
const pNo1G = [218,202,182,166,158,172,184,192,202,210,215,215,218,207,194,184,175,222,246,251,256,261,261,255,245,229,211,196,182,191,197,207,216,211,206,211,216,216,196,177,162,186,207,226];
const pNo1B = [214,198,178,162,154,168,180,188,198,207,212,212,214,203,190,180,171,218,243,248,253,258,258,252,242,226,208,193,179,188,194,204,213,208,203,208,213,213,193,174,159,183,204,223];
const pNo1R = [222,205,185,170,165,180,190,198,205,212,215,215,212,200,190,182,175,225,248,252,258,262,262,255,245,230,212,198,185,192,200,210,218,212,208,212,218,218,198,180,165,188,210,228];
const pNo1C = [235,220,200,180,180,195,205,212,220,225,225,225,215,205,200,195,190,250,265,270,275,280,280,270,255,240,225,210,195,205,215,220,228,225,220,225,230,230,210,190,180,200,225,245];
const pNo1Rd = [200,180,160,145,140,155,168,178,188,198,205,205,205,195,180,170,160,205,230,235,245,250,252,245,232,215,195,175,160,172,182,190,200,200,198,200,205,205,185,165,150,170,190,205];
const pNo2K = [420,350,355,380,420,550,520,420,390,400,385,375,510,385,400,435,430,530,470,410,395,430,400,350,370,410,450,500,490,610,520,555,545,470,475,490,455,490,525,550,550,580,560,565];
const pNo2G = [430,320,340,370,410,530,500,405,380,390,375,370,460,400,395,410,420,510,460,400,390,420,395,355,365,400,440,495,480,590,510,535,525,470,475,485,440,480,510,540,545,570,560,570];
const pNo2B = [400,300,320,350,390,500,475,390,365,375,360,345,350,340,350,370,380,480,430,380,370,400,370,330,345,380,420,470,455,560,480,500,495,450,450,460,420,440,480,510,520,540,535,520];
const pNo2R = [395,290,310,340,380,490,460,380,355,365,350,340,335,330,340,360,370,465,420,370,355,385,360,320,335,370,410,455,440,545,465,480,475,430,425,420,400,410,450,480,495,515,505,490];
const pNo2C = [390,280,300,330,365,470,440,365,345,355,340,325,315,305,320,340,350,440,400,355,340,365,340,310,320,355,390,430,420,520,445,455,440,415,410,405,380,380,420,450,465,485,475,460];
const pNo2Gd = [430,320,345,375,415,540,505,410,385,395,380,375,420,420,400,420,470,490,480,400,395,430,525,360,365,405,450,500,485,600,515,540,530,470,480,490,445,485,515,545,550,575,565,575];
const pNo2Cd = [380,275,295,320,355,455,425,355,340,348,335,318,310,295,310,330,340,425,385,345,332,355,330,305,315,345,380,420,410,505,435,440,425,420,420,415,360,370,410,440,455,470,455,430];
const pNo3K = [272,265,192,198,170,160,160,148,225,232,260,240,212,200,185,168,148,140,132,135,150,172,205,225,200,165,155,150,150,115,112,150,165,200,215,240,185,170,140,118,115,108,105,110];
const pNo3G = [258,255,200,200,175,155,155,155,228,240,262,250,220,205,190,172,152,142,138,140,158,182,210,230,215,175,162,155,150,120,115,152,165,200,220,225,205,185,155,130,118,112,108,112];
const pNo3B = [290,272,225,210,195,165,163,165,225,255,270,290,245,220,205,185,165,148,148,152,172,200,225,245,230,198,178,162,155,125,122,155,172,210,228,245,222,200,168,142,125,122,122,128];
const pNo3R = [305,285,240,222,205,175,175,175,235,265,280,335,255,228,212,192,172,155,155,160,180,208,235,250,238,205,185,168,158,128,128,158,175,215,232,250,228,208,175,148,130,128,128,135];
const pNo3C = [345,315,265,245,225,190,190,190,250,285,300,300,265,240,225,205,185,165,165,170,190,220,250,265,250,215,195,175,165,135,135,165,185,225,245,260,240,220,185,155,140,140,140,150];
const pNo3Rd = [300,280,235,215,200,170,168,170,232,262,278,345,250,225,208,188,170,152,152,158,178,205,232,280,235,200,180,165,156,128,125,155,172,212,245,260,255,210,172,145,128,125,125,132];
const pNo4K = [60,55,66,68,73,78,81,82,65,55,50,45,52,60,70,80,95,117,105,95,80,65,60,65,66,80,115,130,135,138,140,135,130,100,90,80,105,125,155,178,170,165,175,177];
const pNo4G = [58,52,64,68,75,80,82,78,63,54,50,47,52,60,70,80,93,110,102,93,78,64,60,64,65,78,110,125,130,133,135,133,128,102,90,82,98,118,145,168,168,162,170,172];
const pNo4B = [50,45,55,58,65,70,72,70,58,50,45,42,48,55,62,70,82,95,88,80,68,57,53,56,56,66,90,105,110,113,115,113,108,90,80,74,88,105,130,140,140,138,142,138];
const pNo4R = [48,43,52,55,60,64,66,64,55,47,43,40,46,52,58,66,76,88,82,75,63,54,50,52,52,60,82,95,100,104,106,104,98,84,75,70,82,98,118,128,130,128,126,122];
const pNo4C = [45,40,48,52,55,58,60,58,50,44,40,38,43,48,54,62,70,80,76,70,58,50,47,48,48,55,74,85,90,93,95,93,88,76,68,64,75,90,108,118,120,118,118,115];
const pNo4Bd = [55,50,60,65,70,76,78,75,62,53,49,46,50,58,68,78,90,108,100,92,76,63,58,63,64,80,115,132,138,142,145,140,133,105,92,85,100,125,150,182,175,168,175,178];
const pNo4Cd = [52,48,58,62,68,72,74,72,60,52,47,44,49,56,65,74,86,102,95,88,73,60,56,60,61,74,104,118,124,128,130,127,121,100,88,80,92,115,140,155,160,162,160,165];

const pH2o1 = [2.98,2.98,2.63,2.37,2.14,1.99,1.98,2.24,2.6,2.74,2.63,2.93,2.71,2.5,2.6,2.06,1.72,1.69,1.98,2.08,2.55,2.8,2.79,3.07,2.88,2.64,2.67,2.2,1.7,2.1,2.0,2.44,3.12,3.22,2.78,2.9,2.76,2.76,2.34,2.19,1.96,1.78];
const pH2o2 = [0.88,0.80,0.87,0.69,0.85,0.69,0.81,1.00,1.04,1.10,1.07,1.03,0.86,0.85,0.86,0.80,0.70,0.66,0.85,0.88,0.95,1.05,1.13,1.00,0.91,0.89,0.90,0.89,0.67,0.74,0.75,0.99,1.12,1.26,1.13,1.13,1.02,0.76,0.86,0.80,0.75,0.72];
const pH2o3 = [0.069,0.073,0.065,0.058,0.052,0.047,0.045,0.049,0.056,0.059,0.056,0.063,0.061,0.059,0.062,0.049,0.041,0.039,0.044,0.046,0.054,0.059,0.059,0.067,0.066,0.063,0.063,0.053,0.042,0.048,0.045,0.053,0.069,0.071,0.059,0.064,0.062,0.066,0.054,0.051,0.046,0.041];

// ---------------- text ----------------
const HEADERS: [string, number, number][] = [["Sahara", 57, 1380], ["Pacific", 1493, 2816]];
const SIDE_LABELS: [string, string, string, number, number][] = [
  ["O", "3", "", 242, 1688], ["BrO", "", "", 1756, 3190], ["HCHO", "", "", 3267, 4701],
  ["NO", "2", "", 4778, 6211], ["H", "2", "O", 6288, 7723],
];
const TITLES: [string, number, string, string][] = [
  ["o3", 247, "O3 over Sahara by line of sight", "O3 over Pacific by line of sight"],
  ["bro", 1759, "BrO over Sahara by line of sight", "BrO over Pacific by line of sight"],
  ["hcho", 3270, "HCHO over the Sahara by line of sight", "HCHO over the Pacific by line of sight"],
  ["no2", 4782, "NO2 over the Sahara by line of sight", "NO2 over the Pacific by line of sight"],
  ["h2o", 6293, "H2O over the Sahara", "H2O over the Pacific"],
];
const LEG_TEXT = ["dotted = negative (East)", "dashed = positive (West)", "LOS <  5°", "5° < LOS < 15°", "15° < LOS < 25°", "25° < LOS < 35°", "35° < LOS < 45°"];
const LEG_COL = [KC, KC, KC, GC, BC, RC, CC];
const LEG_Y: Record<string, number[]> = {
  o3: [1546, 1567, 1589, 1611, 1632],
  bro: [2914, 2934, 2953, 2972, 2993, 3013, 3033],
  hcho: [4448, 4468, 4488, 4508, 4529, 4549, 4569],
  no2: [5816, 5849, 5881, 5914, 5948, 5982, 6015],
};

// ---------------- layout ----------------
const ROWS: Record<string, number[][]> = {
  o3: [[267, 717], [750, 1199], [1235, 1688]],
  bro: [[1779, 2104], [2146, 2467], [2509, 2830], [2870, 3192]],
  hcho: [[3293, 3619], [3652, 3979], [4019, 4341], [4378, 4705]],
  no2: [[4801, 5126], [5166, 5488], [5529, 5850], [5890, 6214]],
  h2o: [[6317, 6759], [6795, 7240], [7280, 7731]],
};
const WIDE: Record<string, boolean> = { o3: true, h2o: true, bro: false, hcho: false, no2: false };
const PLOT_X = [{ wide: [204, 1343], nar: [204, 1311] }, { wide: [1571, 2706], nar: [1601, 2706] }];
const COL_X0 = [0, 740];

const SUP: Record<string, string> = { "0": "⁰", "1": "¹", "2": "²", "3": "³", "4": "⁴", "5": "⁵", "6": "⁶", "7": "⁷", "8": "⁸", "9": "⁹", "-": "⁻" };
const sup = (n: number) => String(n).split("").map((c) => SUP[c]).join("");
const fInt = (v: number) => String(Math.round(v));
const fFix = (d: number) => (v: number) => v.toFixed(d);
const fChi = (u: number) => (v: number) => (v * u).toFixed(4);
const fE = (u: number, d: number) => (v: number) => {
  if (Math.abs(v) < 1e-12) return "0";
  const r = Math.abs(v) * u;
  const e = Math.floor(Math.log10(r) + 1e-9);
  return (v < 0 ? "−" : "") + (r / Math.pow(10, e)).toFixed(d) + "×10" + sup(e);
};

type Ser = [number[], string, number];
type Def = { c: number; g: string; i: number; min: number; max: number; step: number; minor: number; fmt: (v: number) => string; yt: string; yto: number; ar: number[]; s: Ser[] };

const PANELS: Def[] = [];
function addColumn(c: number, D: any) {
  PANELS.push(
    { c, g: "o3", i: 0, min: 0, max: 300, step: 50, minor: 5, fmt: fInt, yt: "TO3 - GVC [DU]", yto: -94, ar: [150, 250], s: D.o31 },
    { c, g: "o3", i: 1, min: 0, max: 25, step: 5, minor: 5, fmt: fInt, yt: "RMS [DU]", yto: -80, ar: [25, 15], s: D.o32 },
    { c, g: "o3", i: 2, min: 0, max: 200, step: 50, minor: 10, fmt: fChi(1e-5), yt: "ChiSq", yto: -135, ar: [81, 120], s: D.o33 },
    { c, g: "bro", i: 0, min: 0, max: 60, step: 10, minor: 20, fmt: fE(1e14, 0), yt: "VC [molec./cm²]", yto: -125, ar: [34.4, 38.7], s: D.br1 },
    { c, g: "bro", i: 1, min: 0, max: 300, step: 50, minor: 20, fmt: fE(1e13, 1), yt: "RMS [molec./cm²]", yto: -149, ar: [71, 92], s: D.br2 },
    { c, g: "bro", i: 2, min: 0, max: 200, step: 50, minor: 10, fmt: fE(1e11, 1), yt: "fit window intensity [W/m2]", yto: -149, ar: [120, 100], s: D.br3 },
    { c, g: "bro", i: 3, min: 0, max: 500, step: 100, minor: 20, fmt: fChi(1e-6), yt: "ChiSq", yto: -135, ar: [392, 289], s: D.br4 },
    { c, g: "hcho", i: 0, min: -300, max: 300, step: 100, minor: 20, fmt: fE(1e14, 0), yt: "VC [molec./cm2]", yto: -147, ar: [206, 103], s: D.hc1 },
    { c, g: "hcho", i: 1, min: 0, max: 500, step: 100, minor: 20, fmt: fE(1e14, 0), yt: "RMS [molec./cm2]", yto: -130, ar: [42, 144], s: D.hc2 },
    { c, g: "hcho", i: 2, min: 0, max: 200, step: 50, minor: 10, fmt: fE(1e11, 1), yt: "fit window intensity [W/m²]", yto: -156, ar: [182, 131], s: D.hc3 },
    { c, g: "hcho", i: 3, min: 0, max: 650, step: 100, minor: 20, fmt: fChi(1e-6), yt: "ChiSq", yto: -135, ar: [495, 393], s: D.hc4 },
    { c, g: "no2", i: 0, min: 0, max: 400, step: 100, minor: 20, fmt: fE(1e13, 0), yt: "VC [molec./cm²]", yto: -125, ar: [94, 148], s: D.no1 },
    { c, g: "no2", i: 1, min: 0, max: 700, step: 100, minor: 20, fmt: fE(1e12, 0), yt: "RMS [molec./cm2]", yto: -125, ar: [191, 296], s: D.no2 },
    { c, g: "no2", i: 2, min: 0, max: 400, step: 100, minor: 20, fmt: fE(1e11, 0), yt: "fit window intensity [W/m²]", yto: -135, ar: [302, 249], s: D.no3 },
    { c, g: "no2", i: 3, min: 0, max: 200, step: 50, minor: 10, fmt: fE(1e-6, 1), yt: "ChiSq", yto: -154, ar: [200, 151], s: D.no4 },
    { c, g: "h2o", i: 0, min: 0, max: 3.5, step: 0.5, minor: 5, fmt: fFix(1), yt: "H2O column [g/cm²]", yto: -84, ar: [0.47, 1.5], s: D.h1 },
    { c, g: "h2o", i: 1, min: 0, max: 1.5, step: 0.2, minor: 4, fmt: fFix(1), yt: "RMS [g/cm²]", yto: -84, ar: [0.178, 0.58], s: D.h2 },
    { c, g: "h2o", i: 2, min: 0, max: 0.08, step: 0.02, minor: 4, fmt: fFix(2), yt: "retrival error", yto: -113, ar: [0.02, 0.0398], s: D.h3 },
  );
}
addColumn(0, {
  o31: [[sO31K, KC, 0], [sO31G, GC, 1], [sO31C, CC, 1]],
  o32: [[sO32K, KC, 0], [sO32G, GC, 1], [sO32B, BC, 1], [sO32R, RC, 1], [sO32C, CC, 1]],
  o33: [[sO33K, KC, 0], [sO33G, GC, 1], [sO33B, BC, 1], [sO33R, RC, 1], [sO33C, CC, 1]],
  br1: [[sBr1Bd, BC, 2], [sBr1Cd, CC, 2], [sBr1C, CC, 1], [sBr1R, RC, 1], [sBr1B, BC, 1], [sBr1G, GC, 1], [sBr1K, KC, 0]],
  br2: [[sBr2Bd, BC, 2], [sBr2Gd, GC, 2], [sBr2C, CC, 1], [sBr2R, RC, 1], [sBr2B, BC, 1], [sBr2G, GC, 1], [sBr2K, KC, 0]],
  br3: [[sBr3Rd, RC, 2], [sBr3C, CC, 1], [sBr3R, RC, 1], [sBr3B, BC, 1], [sBr3G, GC, 1], [sBr3K, KC, 0]],
  br4: [[sBr4Bd, BC, 2], [sBr4Rd, RC, 2], [sBr4C, CC, 1], [sBr4R, RC, 1], [sBr4B, BC, 1], [sBr4G, GC, 1], [sBr4K, KC, 0]],
  hc1: [[sHc1Bd, BC, 2], [sHc1Cd, CC, 2], [sHc1C, CC, 1], [sHc1R, RC, 1], [sHc1B, BC, 1], [sHc1G, GC, 1], [sHc1K, KC, 0]],
  hc2: [[sHc2Rd, RC, 2], [sHc2Cd, CC, 2], [sHc2C, CC, 1], [sHc2R, RC, 1], [sHc2B, BC, 1], [sHc2G, GC, 1], [sHc2K, KC, 0]],
  hc3: [[sHc3Gd, GC, 2], [sHc3C, CC, 1], [sHc3R, RC, 1], [sHc3B, BC, 1], [sHc3G, GC, 1], [sHc3K, KC, 0]],
  hc4: [[sHc4Bd, BC, 2], [sHc4Rd, RC, 2], [sHc4C, CC, 1], [sHc4R, RC, 1], [sHc4B, BC, 1], [sHc4G, GC, 1], [sHc4K, KC, 0]],
  no1: [[sNo1Rd, RC, 2], [sNo1C, CC, 1], [sNo1R, RC, 1], [sNo1B, BC, 1], [sNo1G, GC, 1], [sNo1K, KC, 0]],
  no2: [[sNo2Gd, GC, 2], [sNo2Cd, CC, 2], [sNo2C, CC, 1], [sNo2R, RC, 1], [sNo2B, BC, 1], [sNo2G, GC, 1], [sNo2K, KC, 0]],
  no3: [[sNo3Bd, BC, 2], [sNo3C, CC, 1], [sNo3R, RC, 1], [sNo3B, BC, 1], [sNo3G, GC, 1], [sNo3K, KC, 0]],
  no4: [[sNo4Bd, BC, 2], [sNo4Cd, CC, 2], [sNo4C, CC, 1], [sNo4R, RC, 1], [sNo4B, BC, 1], [sNo4G, GC, 1], [sNo4K, KC, 0]],
  h1: [[sH2o1, KC, 0]], h2: [[sH2o2, KC, 0]], h3: [[sH2o3, KC, 0]],
});
addColumn(1, {
  o31: [[pO31K, KC, 0], [pO31G, GC, 1], [pO31C, CC, 1]],
  o32: [[pO32K, KC, 0], [pO32G, GC, 1], [pO32B, BC, 1], [pO32R, RC, 1], [pO32C, CC, 1]],
  o33: [[pO33K, KC, 0], [pO33G, GC, 1], [pO33B, BC, 1], [pO33R, RC, 1], [pO33C, CC, 1]],
  br1: [[pBr1Rd, RC, 2], [pBr1Cd, CC, 2], [pBr1C, CC, 1], [pBr1R, RC, 1], [pBr1B, BC, 1], [pBr1G, GC, 1], [pBr1K, KC, 0]],
  br2: [[pBr2Bd, BC, 2], [pBr2C, CC, 1], [pBr2R, RC, 1], [pBr2B, BC, 1], [pBr2G, GC, 1], [pBr2K, KC, 0]],
  br3: [[pBr3Gd, GC, 2], [pBr3C, CC, 1], [pBr3R, RC, 1], [pBr3B, BC, 1], [pBr3G, GC, 1], [pBr3K, KC, 0]],
  br4: [[pBr4Bd, BC, 2], [pBr4C, CC, 1], [pBr4R, RC, 1], [pBr4B, BC, 1], [pBr4G, GC, 1], [pBr4K, KC, 0]],
  hc1: [[pHc1Gd, GC, 2], [pHc1Cd, CC, 2], [pHc1C, CC, 1], [pHc1R, RC, 1], [pHc1B, BC, 1], [pHc1G, GC, 1], [pHc1K, KC, 0]],
  hc2: [[pHc2Bd, BC, 2], [pHc2Cd, CC, 2], [pHc2C, CC, 1], [pHc2R, RC, 1], [pHc2B, BC, 1], [pHc2G, GC, 1], [pHc2K, KC, 0]],
  hc3: [[pHc3Gd, GC, 2], [pHc3C, CC, 1], [pHc3R, RC, 1], [pHc3B, BC, 1], [pHc3G, GC, 1], [pHc3K, KC, 0]],
  hc4: [[pHc4Bd, BC, 2], [pHc4C, CC, 1], [pHc4R, RC, 1], [pHc4B, BC, 1], [pHc4G, GC, 1], [pHc4K, KC, 0]],
  no1: [[pNo1Rd, RC, 2], [pNo1C, CC, 1], [pNo1R, RC, 1], [pNo1B, BC, 1], [pNo1G, GC, 1], [pNo1K, KC, 0]],
  no2: [[pNo2Gd, GC, 2], [pNo2Cd, CC, 2], [pNo2C, CC, 1], [pNo2R, RC, 1], [pNo2B, BC, 1], [pNo2G, GC, 1], [pNo2K, KC, 0]],
  no3: [[pNo3Rd, RC, 2], [pNo3C, CC, 1], [pNo3R, RC, 1], [pNo3B, BC, 1], [pNo3G, GC, 1], [pNo3K, KC, 0]],
  no4: [[pNo4Bd, BC, 2], [pNo4Cd, CC, 2], [pNo4C, CC, 1], [pNo4R, RC, 1], [pNo4B, BC, 1], [pNo4G, GC, 1], [pNo4K, KC, 0]],
  h1: [[pH2o1, KC, 0]], h2: [[pH2o2, KC, 0]], h3: [[pH2o3, KC, 0]],
});

const TICK_FONT = "'DejaVu Sans', 'Liberation Sans', sans-serif";
const YT_FONT = "bold 12px 'Liberation Sans Narrow', 'DejaVu Sans Condensed', 'Liberation Sans', sans-serif";
const LEG_FONT = "bold 12px 'DejaVu Sans', sans-serif";

function idlPlugin(d: Def, last: boolean, topFull: number) {
  return {
    id: "idl",
    beforeDatasetsDraw(chart: any) {
      const { ctx, chartArea: a, scales } = chart;
      ctx.save();
      ctx.strokeStyle = "#000";
      ctx.lineWidth = 1.6;
      ctx.beginPath();
      for (const yr of YEAR_BOUNDS.slice(1, 4)) {
        const px = scales.x.getPixelForValue(yr);
        ctx.moveTo(px, a.top);
        ctx.lineTo(px, a.bottom);
      }
      ctx.stroke();
      ctx.restore();
    },
    afterDatasetsDraw(chart: any) {
      const { ctx, chartArea: a, scales } = chart;
      const x = scales.x, y = scales.y;
      const L = a.left, Rr = a.right, gap = 5;
      ctx.save();
      ctx.strokeStyle = "#000";
      ctx.lineWidth = 1.2;
      ctx.beginPath();
      ctx.moveTo(L, a.top); ctx.lineTo(L, a.bottom);
      ctx.moveTo(L - gap, a.top); ctx.lineTo(L - gap, a.bottom);
      ctx.moveTo(Rr, a.top); ctx.lineTo(Rr, a.bottom);
      const ms = d.step / d.minor;
      const n = Math.round((d.max - d.min) / ms + 1e-6);
      for (let j = 0; j <= n; j++) {
        const v = d.min + j * ms;
        const py = y.getPixelForValue(v);
        const major = j % d.minor === 0;
        ctx.moveTo(L - gap, py); ctx.lineTo(major ? L + 6.5 : L, py);
        ctx.moveTo(Rr, py); ctx.lineTo(Rr - (major ? 10 : 5), py);
      }
      ctx.stroke();
      const ax = x.getPixelForValue(ARROW_X);
      const y1 = y.getPixelForValue(d.ar[0]), y2 = y.getPixelForValue(d.ar[1]);
      const len = Math.abs(y2 - y1);
      const hl = Math.min(24, len * 0.42), hw = hl * 0.3;
      const dir = y2 < y1 ? 1 : -1;
      ctx.lineWidth = 1.6;
      ctx.beginPath();
      ctx.moveTo(ax, y1); ctx.lineTo(ax, y2);
      ctx.moveTo(ax - hw, y2 + dir * hl); ctx.lineTo(ax, y2); ctx.lineTo(ax + hw, y2 + dir * hl);
      ctx.stroke();
      if (last) {
        ctx.fillStyle = "#111";
        ctx.font = "24px 'DejaVu Sans', sans-serif";
        ctx.textAlign = "center";
        ctx.textBaseline = "alphabetic";
        YEAR_LABELS.forEach((t, k) => {
          const cx = x.getPixelForValue((YEAR_BOUNDS[k] + YEAR_BOUNDS[k + 1]) / 2);
          ctx.fillText(t, cx, a.bottom - 2);
        });
      }
      if (last && d.g === "o3") {
        ctx.font = LEG_FONT;
        ctx.textAlign = "right";
        ctx.textBaseline = "middle";
        const xr = x.getPixelForValue(O3_LEG_RIGHT);
        LEG_Y.o3.forEach((ly, k) => {
          ctx.fillStyle = LEG_COL[k + 2];
          ctx.fillText(LEG_TEXT[k + 2], xr, a.top + (ly - topFull) * S);
        });
      }
      ctx.fillStyle = "#000";
      ctx.font = YT_FONT;
      ctx.textAlign = "center";
      ctx.textBaseline = "middle";
      ctx.translate(L + d.yto * S, (a.top + a.bottom) / 2);
      ctx.rotate(-Math.PI / 2);
      ctx.fillText(d.yt, 0, 0);
      ctx.restore();
    },
  };
}

function Panel({ d }: { d: Def }) {
  const ref = useRef<HTMLCanvasElement>(null);
  const [t, b] = ROWS[d.g][d.i];
  const [l, r] = WIDE[d.g] ? PLOT_X[d.c].wide : PLOT_X[d.c].nar;
  const x0 = COL_X0[d.c];
  const L = l * S - x0, Rr = r * S - x0, T = t * S, H = (b - t) * S;
  const PAD = 12;
  const W = Math.ceil(Rr + 14), HH = Math.ceil(H + 2 * PAD);
  const last = d.i === ROWS[d.g].length - 1;
  useEffect(() => {
    const start = d.g === "h2o" ? 2 : 0;
    const n = d.s.length;
    const datasets = d.s.map(([v, col, st], k) => ({
      data: v.map((yv, i) => ({ x: X_MIN + (i + start + 0.5) / 12, y: yv })),
      borderColor: col,
      borderWidth: st === 0 ? (d.g === "h2o" ? 3 : 2.2) : 2.6,
      borderDash: st === 1 ? [9, 5] : st === 2 ? [2.4, 3] : [],
      pointRadius: 0,
      tension: 0,
      fill: false,
      order: n - k,
    }));
    const tv: number[] = [];
    const nt = Math.floor((d.max - d.min) / d.step + 1e-6);
    for (let k = 0; k <= nt; k++) tv.push(+(d.min + k * d.step).toFixed(10));
    const chart = new Chart(ref.current as HTMLCanvasElement, {
      type: "line",
      data: { datasets } as any,
      options: {
        responsive: false,
        animation: false,
        devicePixelRatio: 1,
        events: [],
        layout: { padding: { left: 0, top: PAD, right: W - Rr, bottom: HH - PAD - H } },
        plugins: { legend: { display: false }, tooltip: { enabled: false }, title: { display: false } },
        scales: {
          x: { type: "linear", min: X_MIN, max: X_MAX, display: false },
          y: {
            type: "linear", min: d.min, max: d.max, position: "left",
            afterFit: (ax: any) => { ax.width = L; },
            afterBuildTicks: (ax: any) => { ax.ticks = tv.map((v) => ({ value: v })); },
            grid: { display: false, drawTicks: false },
            border: { display: false },
            ticks: { autoSkip: false, padding: 11, color: "#000", font: { family: TICK_FONT, size: 12, weight: "bold" }, callback: (v: any) => d.fmt(Number(v)) },
          },
        },
      } as any,
      plugins: [idlPlugin(d, last, t)],
    });
    return () => chart.destroy();
  }, []);
  return <canvas ref={ref} width={W} height={HH} style={{ position: "absolute", left: x0, top: T - PAD, width: W, height: HH }} />;
}

export default function App() {
  useEffect(() => {
    document.body.style.margin = "0";
  }, []);
  const red = "#ff0000";
  const sub = (s: string) => s ? <span style={{ fontSize: "0.62em", position: "relative", top: "0.3em" }}>{s}</span> : null;
  const legendItems: any[] = [];
  [0, 1].forEach((c) => {
    ["bro", "hcho", "no2"].forEach((g) => {
      const off = c === 0 ? 0 : 1398;
      LEG_Y[g].forEach((y, k) => {
        const xl = (k < 2 ? 514 : k === 2 ? 589 : 524) + off;
        legendItems.push(
          <div key={g + c + "_" + k} style={{ position: "absolute", left: xl * S, top: y * S - 8, height: 16, lineHeight: "16px", font: LEG_FONT, color: LEG_COL[k], whiteSpace: "pre", zIndex: 5 }}>{LEG_TEXT[k]}</div>
        );
      });
    });
  });
  return (
    <div style={{ position: "relative", width: 1596, height: 4096, background: "#fff", overflow: "hidden" }}>
      {HEADERS.map(([txt, x1, x2]) => (
        <div key={txt} style={{ position: "absolute", left: x1 * S, top: 17 * S, width: (x2 - x1) * S, height: 149 * S, background: red, color: "#fff", display: "flex", alignItems: "center", justifyContent: "center", font: "bold 66px 'Liberation Sans', Arial, sans-serif" }}>{txt}</div>
      ))}
      {SIDE_LABELS.map(([a, b, c, y1, y2]) => (
        <div key={a + b + c} style={{ position: "absolute", left: 2892 * S, top: y1 * S, width: 1596 - 2892 * S, height: (y2 - y1) * S, background: red, color: "#fff", display: "flex", alignItems: "center", justifyContent: "center", font: "bold 66px 'Liberation Sans', Arial, sans-serif" }}>
          <span style={{ transform: "rotate(90deg)", whiteSpace: "nowrap", lineHeight: 1 }}>{a}{sub(b)}{c}</span>
        </div>
      ))}
      {TITLES.map(([g, y, t0, t1]) => [0, 1].map((c) => {
        const [l, r] = WIDE[g] ? PLOT_X[c].wide : PLOT_X[c].nar;
        return (
          <div key={g + c} style={{ position: "absolute", left: ((l + r) / 2) * S - 300, width: 600, top: y * S - 10, height: 20, lineHeight: "20px", textAlign: "center", font: "15px 'DejaVu Sans', sans-serif", letterSpacing: "1px", color: "#000", whiteSpace: "pre" }}>{c === 0 ? t0 : t1}</div>
        );
      }))}
      {PANELS.map((d, k) => <Panel key={k} d={d} />)}
      {legendItems}
    </div>
  );
}
